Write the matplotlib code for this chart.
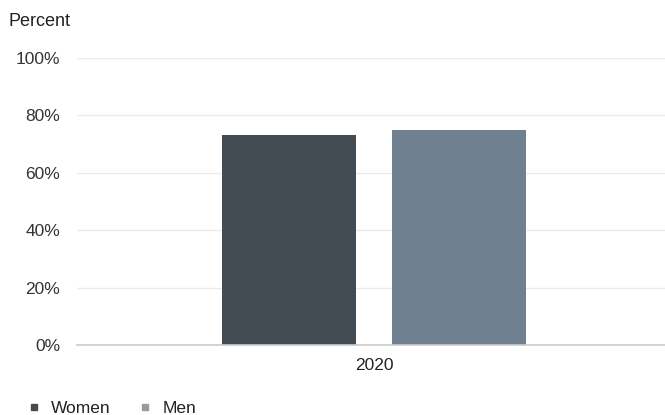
import matplotlib
matplotlib.use("Agg")
import matplotlib.pyplot as plt
from matplotlib.lines import Line2D

categories = ["2020"]
series_names = ["Women", "Men"]
women = [73]
men = [75]
yticks = [0, 20, 40, 60, 80, 100]
ytick_labels = ["0%", "20%", "40%", "60%", "80%", "100%"]

bar_colors = ["#434b53", "#6f8190"]
legend_colors = ["#4a4a4a", "#9a9a9a"]

plt.rcParams['font.family'] = ['Liberation Sans', 'DejaVu Sans']
FS = 12.5

fig = plt.figure(figsize=(6.65, 4.15), dpi=100)
ax = fig.add_axes([77/665, 70/415, (665-77)/665, (345-58)/415])

width = 0.228
offset = 0.144
xs = list(range(len(categories)))
ax.bar([x - offset for x in xs], women, width=width, color=bar_colors[0], zorder=3)
ax.bar([x + offset for x in xs], men, width=width, color=bar_colors[1], zorder=3)

ax.set_xlim(-0.505, 0.495)
ax.set_ylim(0, 100)
ax.set_yticks(yticks)
ax.set_yticklabels(ytick_labels, fontsize=FS, color="#333333")
ax.set_xticks(xs)
ax.set_xticklabels(categories, fontsize=FS, color="#222222")
ax.tick_params(axis='both', length=0)
ax.tick_params(axis='y', pad=12)
ax.tick_params(axis='x', pad=9)
for s in ax.spines.values():
    s.set_visible(False)
ax.grid(axis='y', color="#ebebeb", linewidth=1, zorder=0)
ax.set_axisbelow(True)
ax.axhline(0, color="#cccccc", linewidth=1.2, zorder=4, clip_on=False)

fig.text(8/665, 1 - 21/415, "Percent", fontsize=13, color="#222222", va='center', ha='left')

handles = [Line2D([], [], marker='s', linestyle='none', markersize=5, color=c) for c in legend_colors]
fig.legend(handles, series_names, loc='center left', bbox_to_anchor=(18/665, 1 - 408/415),
           ncol=2, frameon=False, fontsize=12.5, handlelength=1.0, handletextpad=0.5,
           columnspacing=1.5, labelcolor="#222222", borderaxespad=0)

fig.savefig("out.png", dpi=100)
